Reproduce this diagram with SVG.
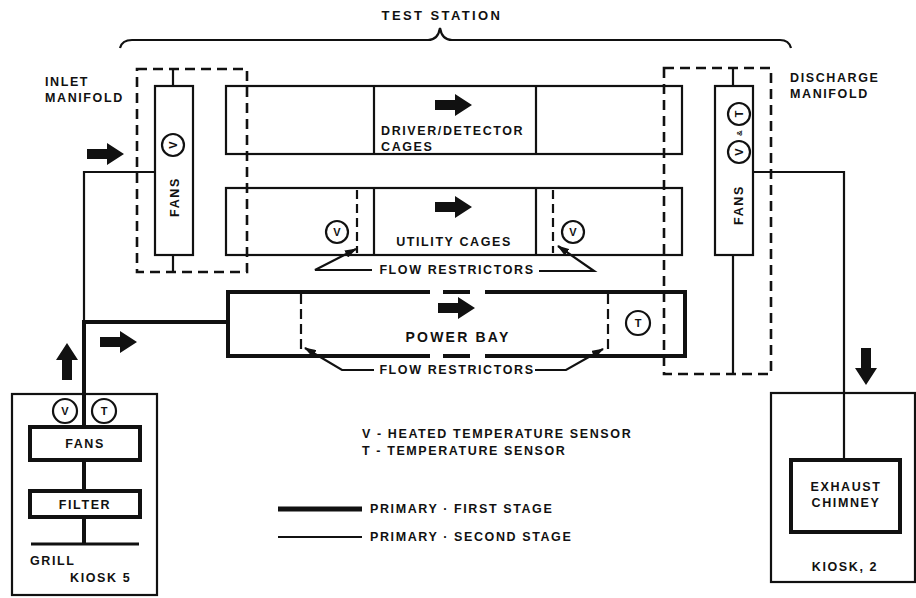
<svg xmlns="http://www.w3.org/2000/svg" width="916" height="598" viewBox="0 0 916 598">
<style>
text{font-family:"Liberation Sans",Arial,sans-serif;font-weight:bold;font-size:12.5px;fill:#111;letter-spacing:1.6px}
.m{text-anchor:middle}
.thin{fill:none;stroke:#111;stroke-width:2.2}
.thick{fill:none;stroke:#111;stroke-width:4}
.dash{fill:none;stroke:#111;stroke-width:2.6;stroke-dasharray:10 6}
.circ{fill:#fff;stroke:#111;stroke-width:2.2}
.sym{font-size:11px;letter-spacing:0}
</style>
<defs>
<path id="blk" d="M0,-5 H20 V-11 L37,0 L20,11 V5 H0 Z" fill="#111"/>
<marker id="ah" viewBox="0 0 12 8" refX="11" refY="4" markerWidth="12" markerHeight="8" markerUnits="userSpaceOnUse" orient="auto"><path d="M0,0 L12,4 L0,8 Z" fill="#111"/></marker>
</defs>
<rect width="916" height="598" fill="#fff"/>

<g id="test-station">
<text class="m" x="442" y="20" style="font-size:13px;letter-spacing:2.4px">TEST STATION</text>
<path class="thin" d="M120,48 Q122,40 132,40 H428 Q438,40 440,28 Q442,40 452,40 H780 Q789,40 791,48"/>
</g>

<g id="connectors">
<path class="thin" d="M155,172 H84 V322"/>
<path class="thick" d="M228,322 H84 V427 M84,460 V491 M84,517 V544"/>
<path class="thin" d="M753,172 H844 V460"/>
<path class="thin" d="M173,69 V86 M173,255 V272 M733,68 V86 M733,255 V374"/>
<path class="thin" d="M372,270 H315 L356,249" marker-end="url(#ah)"/>
<path class="thin" d="M539,271 H594 L558,246" marker-end="url(#ah)"/>
<path class="thin" d="M374,370 H342 L305,348" marker-end="url(#ah)"/>
<path class="thin" d="M535,370 H566 L603,349" marker-end="url(#ah)"/>
<use href="#blk" x="87" y="154"/>
<use href="#blk" x="100" y="342"/>
<use href="#blk" transform="translate(67,380) rotate(-90)"/>
<use href="#blk" transform="translate(866,348) rotate(90)"/>
</g>

<g id="inlet-manifold">
<rect class="dash" x="137" y="69" width="110" height="203"/>
<text x="45" y="86">INLET</text>
<text x="45" y="102">MANIFOLD</text>
</g>

<g id="inlet-fans">
<rect class="thin" x="155" y="86" width="38" height="169" style="fill:#fff"/>
<circle class="circ" cx="173" cy="145" r="11"/>
<text class="m sym" transform="translate(177,145) rotate(-90)">V</text>
<text class="m" transform="translate(179,197) rotate(-90)">FANS</text>
</g>

<g id="driver-detector-cages">
<rect class="thin" x="226" y="86" width="456" height="68"/>
<path class="thin" d="M374,86 V154 M536,86 V154"/>
<use href="#blk" x="435" y="105"/>
<text x="381" y="135">DRIVER/DETECTOR</text>
<text x="381" y="151">CAGES</text>
</g>

<g id="utility-cages">
<rect class="thin" x="226" y="188" width="456" height="67"/>
<path class="thin" d="M374,188 V255 M536,188 V255"/>
<path class="thin" d="M357,190 V253 M553,190 V253" stroke-dasharray="9 5"/>
<circle class="circ" cx="337" cy="232" r="11"/>
<text class="m sym" x="337" y="236">V</text>
<circle class="circ" cx="573" cy="232" r="11"/>
<text class="m sym" x="573" y="236">V</text>
<use href="#blk" x="435" y="207"/>
<text class="m" x="454" y="246">UTILITY CAGES</text>
<text class="m" x="457" y="274">FLOW RESTRICTORS</text>
</g>

<g id="power-bay">
<path class="thick" d="M430,292 H228 V356 H430 M443,292 H470 M443,356 H470 M485,292 H685 V356 H485"/>
<path class="thin" d="M301,294 V354 M608,294 V354" stroke-dasharray="10 5"/>
<circle class="circ" cx="638" cy="323" r="12"/>
<text class="m sym" x="638" y="327">T</text>
<use href="#blk" x="438" y="308"/>
<text class="m" x="458" y="342" style="font-size:14px;letter-spacing:2.2px">POWER BAY</text>
<text class="m" x="457" y="374">FLOW RESTRICTORS</text>
</g>

<g id="discharge-manifold">
<rect class="dash" x="664" y="68" width="107" height="306"/>
<text x="790" y="82">DISCHARGE</text>
<text x="790" y="98">MANIFOLD</text>
</g>

<g id="discharge-fans">
<rect class="thin" x="715" y="86" width="38" height="169" style="fill:#fff"/>
<circle class="circ" cx="739" cy="114" r="11"/>
<text class="m sym" transform="translate(743,114) rotate(-90)">T</text>
<text class="m" transform="translate(742,133) rotate(-90)" style="font-size:8px;letter-spacing:0">&amp;</text>
<circle class="circ" cx="739" cy="152" r="11"/>
<text class="m sym" transform="translate(743,152) rotate(-90)">V</text>
<text class="m" transform="translate(743,205) rotate(-90)">FANS</text>
</g>

<g id="kiosk-5">
<rect class="thin" x="12" y="394" width="145" height="201"/>
<circle class="circ" cx="65" cy="411" r="12"/>
<text class="m sym" x="65" y="415">V</text>
<circle class="circ" cx="104" cy="411" r="12"/>
<text class="m sym" x="104" y="415">T</text>
<path class="thick" d="M31,544 H139" style="stroke-width:3"/>
<text x="30" y="565">GRILL</text>
<text x="70" y="582">KIOSK 5</text>
</g>

<g id="kiosk5-fans">
<rect class="thick" x="30" y="427" width="110" height="33" style="fill:#fff"/>
<text class="m" x="85" y="448">FANS</text>
</g>

<g id="kiosk5-filter">
<rect class="thick" x="30" y="491" width="110" height="26" style="fill:#fff"/>
<text class="m" x="85" y="509">FILTER</text>
</g>

<g id="kiosk-2">
<rect class="thin" x="771" y="393" width="144" height="189"/>
<text class="m" x="845" y="571">KIOSK, 2</text>
</g>

<g id="exhaust-chimney">
<rect class="thick" x="791" y="460" width="109" height="72" style="fill:#fff"/>
<text class="m" x="846" y="491">EXHAUST</text>
<text class="m" x="846" y="507">CHIMNEY</text>
</g>

<g id="legend">
<text x="362" y="438">V - HEATED TEMPERATURE SENSOR</text>
<text x="362" y="455">T - TEMPERATURE SENSOR</text>
<path class="thick" d="M278,509 H362" style="stroke-width:5"/>
<path class="thin" d="M278,537 H362"/>
<text x="370" y="513">PRIMARY · FIRST STAGE</text>
<text x="370" y="541">PRIMARY · SECOND STAGE</text>
</g>
</svg>
